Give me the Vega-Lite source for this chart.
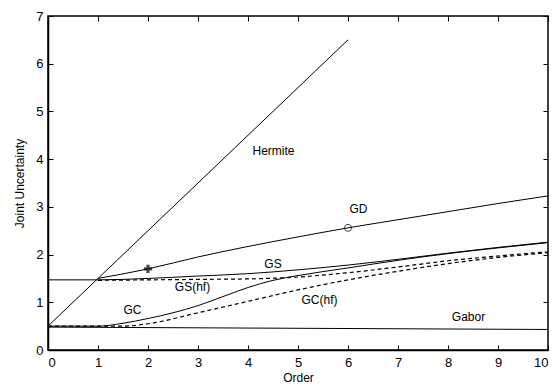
{
  "$schema": "https://vega.github.io/schema/vega-lite/v6.json",
  "width": 500,
  "height": 334,
  "autosize": {"type": "none"},
  "padding": {"left": 48, "top": 16, "right": 8, "bottom": 37},
  "background": "white",
  "config": {
    "view": {"stroke": "black", "strokeWidth": 1.5},
    "font": "Liberation Sans",
    "axis": {
      "grid": false,
      "domainColor": "black",
      "domainWidth": 1.5,
      "tickColor": "black",
      "tickSize": -5,
      "tickWidth": 1,
      "labelColor": "black",
      "labelFont": "Liberation Sans",
      "labelFontSize": 13,
      "titleFont": "Liberation Sans",
      "titleFontWeight": "normal",
      "titleColor": "black",
      "titleFontSize": 12
    }
  },
  "resolve": {"axis": {"x": "independent", "y": "independent"}},
  "datasets": {
    "solid": [
      {"series": "Hermite", "x": 0, "y": 0.5},
      {"series": "Hermite", "x": 6, "y": 6.5},
      {"series": "Gabor", "x": 0, "y": 0.48},
      {"series": "Gabor", "x": 10, "y": 0.43},
      {"series": "GD", "x": 1, "y": 1.5},
      {"series": "GD", "x": 2, "y": 1.7},
      {"series": "GD", "x": 3, "y": 1.95},
      {"series": "GD", "x": 4, "y": 2.17},
      {"series": "GD", "x": 5, "y": 2.37},
      {"series": "GD", "x": 6, "y": 2.56},
      {"series": "GD", "x": 7, "y": 2.73},
      {"series": "GD", "x": 8, "y": 2.9},
      {"series": "GD", "x": 9, "y": 3.07},
      {"series": "GD", "x": 10, "y": 3.23},
      {"series": "GS", "x": 0, "y": 1.47},
      {"series": "GS", "x": 1, "y": 1.47},
      {"series": "GS", "x": 2, "y": 1.5},
      {"series": "GS", "x": 3, "y": 1.55},
      {"series": "GS", "x": 4, "y": 1.6},
      {"series": "GS", "x": 5, "y": 1.68},
      {"series": "GS", "x": 6, "y": 1.78},
      {"series": "GS", "x": 7, "y": 1.9},
      {"series": "GS", "x": 8, "y": 2.03},
      {"series": "GS", "x": 9, "y": 2.15},
      {"series": "GS", "x": 10, "y": 2.26},
      {"series": "GC", "x": 0, "y": 0.5},
      {"series": "GC", "x": 1, "y": 0.5},
      {"series": "GC", "x": 1.5, "y": 0.56},
      {"series": "GC", "x": 2, "y": 0.66},
      {"series": "GC", "x": 2.5, "y": 0.78},
      {"series": "GC", "x": 3, "y": 0.93},
      {"series": "GC", "x": 3.5, "y": 1.12},
      {"series": "GC", "x": 4, "y": 1.31},
      {"series": "GC", "x": 4.5, "y": 1.46},
      {"series": "GC", "x": 5, "y": 1.56},
      {"series": "GC", "x": 6, "y": 1.72},
      {"series": "GC", "x": 7, "y": 1.88},
      {"series": "GC", "x": 8, "y": 2.02},
      {"series": "GC", "x": 9, "y": 2.14},
      {"series": "GC", "x": 10, "y": 2.25}
    ],
    "dashed": [
      {"series": "GS(hf)", "x": 1, "y": 1.46},
      {"series": "GS(hf)", "x": 2, "y": 1.47},
      {"series": "GS(hf)", "x": 3, "y": 1.48},
      {"series": "GS(hf)", "x": 4, "y": 1.49},
      {"series": "GS(hf)", "x": 5, "y": 1.53},
      {"series": "GS(hf)", "x": 6, "y": 1.62},
      {"series": "GS(hf)", "x": 7, "y": 1.74},
      {"series": "GS(hf)", "x": 8, "y": 1.87},
      {"series": "GS(hf)", "x": 9, "y": 1.97},
      {"series": "GS(hf)", "x": 10, "y": 2.06},
      {"series": "GC(hf)", "x": 0, "y": 0.5},
      {"series": "GC(hf)", "x": 1, "y": 0.5},
      {"series": "GC(hf)", "x": 1.5, "y": 0.5},
      {"series": "GC(hf)", "x": 2, "y": 0.55},
      {"series": "GC(hf)", "x": 3, "y": 0.78},
      {"series": "GC(hf)", "x": 4, "y": 1.02},
      {"series": "GC(hf)", "x": 5, "y": 1.26},
      {"series": "GC(hf)", "x": 6, "y": 1.47},
      {"series": "GC(hf)", "x": 7, "y": 1.65},
      {"series": "GC(hf)", "x": 8, "y": 1.81},
      {"series": "GC(hf)", "x": 9, "y": 1.94},
      {"series": "GC(hf)", "x": 10, "y": 2.04}
    ],
    "crosses": [{"x": 2, "y": 1.7}],
    "circles": [{"x": 6, "y": 2.56}],
    "labels": [
      {"label": "Hermite", "x": 4.51, "y": 4.18},
      {"label": "GD", "x": 6.21, "y": 2.96},
      {"label": "GS", "x": 4.5, "y": 1.8},
      {"label": "GS(hf)", "x": 2.89, "y": 1.31},
      {"label": "GC", "x": 1.69, "y": 0.84},
      {"label": "GC(hf)", "x": 5.43, "y": 1.05},
      {"label": "Gabor", "x": 8.41, "y": 0.7}
    ]
  },
  "layer": [
    {
      "data": {"name": "solid"},
      "mark": {"type": "line", "color": "black", "strokeWidth": 1, "interpolate": "monotone"},
      "encoding": {
        "x": {"field": "x", "type": "quantitative", "scale": {"domain": [0, 10], "nice": false},
              "axis": {"orient": "bottom", "title": "Order", "values": [0,1,2,3,4,5,6,7,8,9,10], "labelPadding": 11, "titlePadding": 3}},
        "y": {"field": "y", "type": "quantitative", "scale": {"domain": [0, 7], "nice": false},
              "axis": {"orient": "left", "title": "Joint Uncertainty", "values": [0,1,2,3,4,5,6,7], "labelPadding": 10, "titlePadding": 9}},
        "detail": {"field": "series"}
      }
    },
    {
      "data": {"name": "dashed"},
      "mark": {"type": "line", "color": "black", "strokeWidth": 1.2, "strokeDash": [4, 3], "interpolate": "monotone"},
      "encoding": {
        "x": {"field": "x", "type": "quantitative",
              "axis": {"orient": "top", "title": null, "labels": false, "domain": false, "values": [0,1,2,3,4,5,6,7,8,9,10]}},
        "y": {"field": "y", "type": "quantitative",
              "axis": {"orient": "right", "title": null, "labels": false, "domain": false, "values": [0,1,2,3,4,5,6,7]}},
        "detail": {"field": "series"}
      }
    },
    {
      "data": {"name": "crosses"},
      "mark": {"type": "point", "shape": "cross", "filled": true, "color": "black", "size": 70},
      "encoding": {
        "x": {"field": "x", "type": "quantitative", "axis": null},
        "y": {"field": "y", "type": "quantitative", "axis": null}
      }
    },
    {
      "data": {"name": "circles"},
      "mark": {"type": "point", "shape": "circle", "filled": false, "color": "black", "size": 50, "strokeWidth": 1},
      "encoding": {
        "x": {"field": "x", "type": "quantitative", "axis": null},
        "y": {"field": "y", "type": "quantitative", "axis": null}
      }
    },
    {
      "data": {"name": "labels"},
      "mark": {"type": "text", "color": "black", "fontSize": 12, "font": "Liberation Sans", "align": "center", "baseline": "middle"},
      "encoding": {
        "x": {"field": "x", "type": "quantitative", "axis": null},
        "y": {"field": "y", "type": "quantitative", "axis": null},
        "text": {"field": "label"}
      }
    }
  ]
}
